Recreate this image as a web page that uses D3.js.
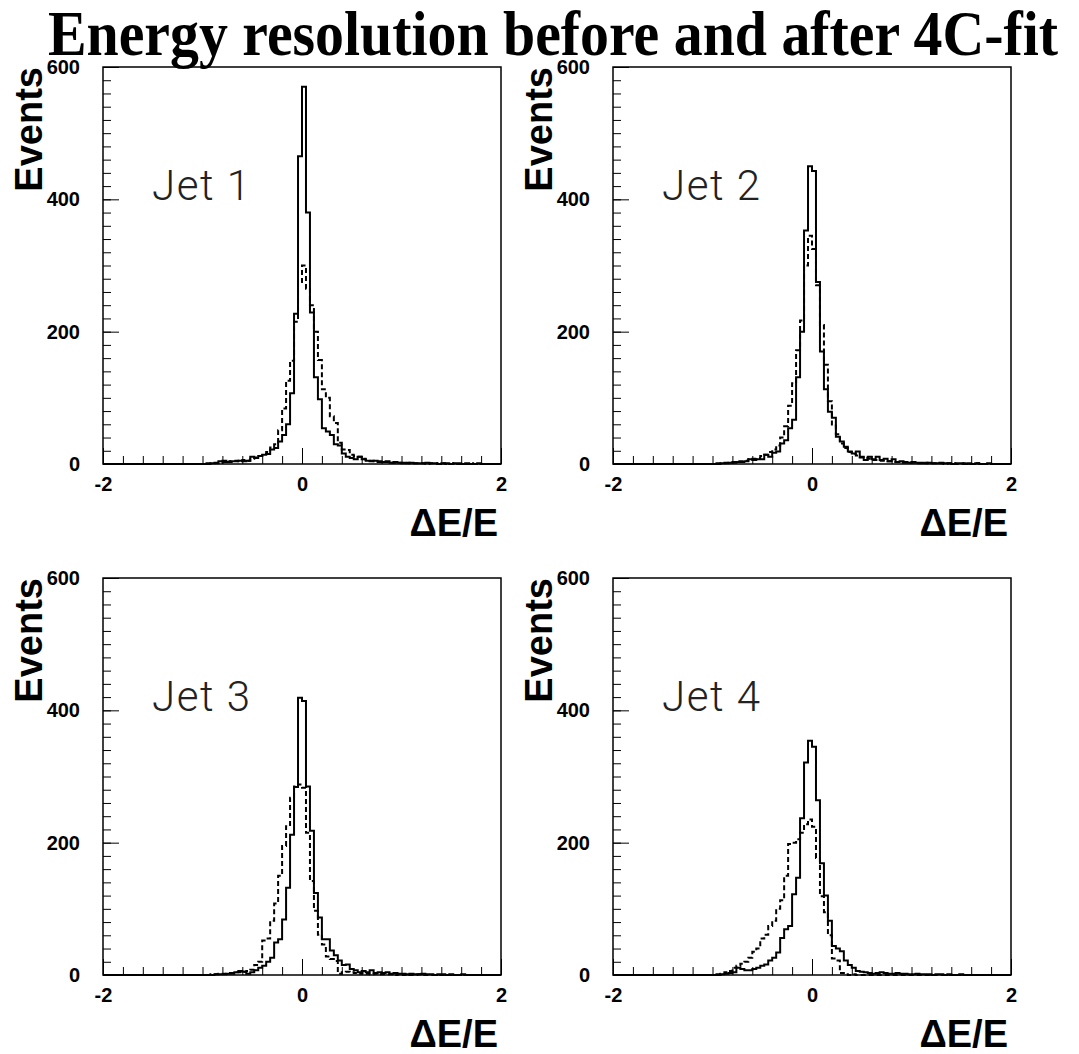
<!DOCTYPE html>
<html>
<head>
<meta charset="utf-8">
<script src="https://cdn.jsdelivr.net/npm/d3@7"></script>
<style>
  body { margin: 0; background: #fff; }
</style>
</head>
<body>
<div class="chart"></div>
<script>
// title and panel labels
var title = "Energy resolution before and after 4C-fit";
var jetLabels = ["Jet 1", "Jet 2", "Jet 3", "Jet 4"];
var yTitle = "Events";
var xTitle = "\u0394E/E";

// axis ticks
var xMajorTicks = [-2, 0, 2];
var yMajorTicks = [0, 200, 400, 600];

// 100 bins of 0.04 from -2 to 2 (solid = after fit, dashed = before fit)
var jet1After = [
  0,0,0,0,0,0,0,0,0,0,0,0,0,0,0,0,0,0,0,0,0,0,0,0,0,
  0,1,1,2,4,5,3,4,4,5,4,5,11,9,12,14,15,22,24,34,44,60,107,227,465,
  570,380,229,131,98,54,49,44,30,28,16,11,9,7,11,7,5,4,5,3,3,4,2,3,2,
  2,1,2,1,1,1,2,1,1,0,1,1,0,1,1,0,1,0,0,1,0,0,0,0,0
];
var jet1Before = [
  0,0,0,0,0,0,0,0,0,0,0,0,0,0,0,0,0,0,0,0,0,0,0,0,0,
  0,0,1,1,2,3,4,3,5,4,6,5,8,10,12,15,18,25,30,51,84,126,156,215,275,
  300,265,240,200,157,113,100,72,62,32,22,21,14,12,11,8,6,5,4,4,3,3,2,2,2,
  1,2,1,1,1,1,0,1,1,0,1,0,0,1,0,0,0,1,0,0,0,0,0,0,0
];
var jet2After = [
  0,0,0,0,0,0,0,0,0,0,0,0,0,0,0,0,0,0,0,0,0,0,0,0,0,
  0,0,1,1,2,2,3,3,4,7,6,7,7,14,11,17,19,31,36,54,67,131,200,353,450,
  443,275,170,113,79,70,41,34,26,19,16,19,11,6,11,7,11,6,8,4,7,3,4,3,2,
  3,2,2,1,2,1,1,2,1,1,0,1,1,0,1,0,1,0,0,1,0,0,0,0,0
];
var jet2Before = [
  0,0,0,0,0,0,0,0,0,0,0,0,0,0,0,0,0,0,0,0,0,0,0,0,0,
  0,1,1,2,2,3,4,4,5,7,8,9,12,14,18,22,28,40,57,88,122,172,217,300,345,
  325,270,210,150,95,58,45,31,24,18,15,13,10,9,8,6,6,5,5,4,3,3,2,2,2,
  2,1,1,2,1,1,1,1,0,1,1,0,0,1,0,0,1,0,0,0,0,0,0,0,0
];
var jet3After = [
  0,0,0,0,0,0,0,0,0,0,0,0,0,0,0,0,0,0,0,0,0,0,0,0,0,
  0,0,0,1,1,1,2,2,4,6,5,2,4,7,11,14,20,26,49,54,84,132,212,284,419,
  414,285,218,124,87,54,54,37,30,22,15,16,9,7,4,6,4,7,3,4,3,4,2,3,2,
  2,1,2,1,1,2,1,1,0,1,1,0,1,0,0,1,0,0,0,0,0,0,0,0,0
];
var jet3Before = [
  0,0,0,0,0,0,0,0,0,0,0,0,0,0,0,0,0,0,0,0,0,0,0,0,0,
  0,0,1,1,2,2,3,3,4,4,5,6,8,15,20,52,55,82,108,150,195,225,268,285,288,
  283,215,142,97,61,46,28,24,21,2,4,5,4,3,2,3,2,1,2,1,1,1,1,0,1,
  0,1,0,0,1,0,0,0,0,0,0,0,0,0,0,0,0,0,0,0,0,0,0,0,0
];
var jet4After = [
  0,0,0,0,0,0,0,0,0,0,0,0,0,0,0,0,0,0,0,0,0,0,0,0,0,
  0,0,1,2,3,4,11,9,7,7,9,11,14,16,22,26,34,56,69,74,122,147,237,321,354,
  345,264,169,120,82,44,40,36,22,15,11,6,5,4,3,2,3,4,3,2,2,3,2,2,1,
  1,2,1,1,1,0,1,1,0,1,0,0,1,0,0,0,0,0,0,0,0,0,0,0,0
];
var jet4Before = [
  0,0,0,0,0,0,0,0,0,0,0,0,0,0,0,0,0,0,0,0,0,0,0,0,0,
  0,1,2,4,6,11,14,17,20,26,35,40,55,61,74,82,100,113,150,198,200,205,215,228,235,
  224,177,119,95,60,25,22,3,1,0,1,0,0,0,0,0,0,0,0,0,0,0,0,0,0,
  0,0,0,0,0,0,0,0,0,0,0,0,0,0,0,0,0,0,0,0,0,0,0,0,0
];

var afterFit = [jet1After, jet2After, jet3After, jet4After];
var beforeFit = [jet1Before, jet2Before, jet3Before, jet4Before];

var xMin = -2, xMax = 2, binWidth = 0.04;

var svgWidth = 1079;
var svgHeight = 1054;

var svg = d3.select(".chart")
  .append("svg")
  .attr("width", svgWidth)
  .attr("height", svgHeight);

svg.append("rect")
  .attr("width", svgWidth)
  .attr("height", svgHeight)
  .attr("fill", "white");

// big title
svg.append("text")
  .attr("x", 48)
  .attr("y", 55)
  .attr("textLength", 1010)
  .attr("lengthAdjust", "spacingAndGlyphs")
  .style("font-family", "'Liberation Serif', 'Times New Roman', serif")
  .style("font-weight", "bold")
  .style("font-size", "63px")
  .text(title);

var panelW = 398, panelH = 397;
var panelLeft = [103, 613];
var panelTop = [67, 578];

var x = d3.scaleLinear().domain([xMin, xMax]).range([0, panelW]);
var y = d3.scaleLinear().domain([0, 600]).range([panelH, 0]);

var line = d3.line()
  .x(d => x(d.x))
  .y(d => y(d.y))
  .curve(d3.curveStepAfter);

function stepPoints(values) {
  var pts = [{x: xMin, y: 0}];
  values.forEach(function(v, i) {
    pts.push({x: xMin + i * binWidth, y: v});
  });
  pts.push({x: xMax, y: values[values.length - 1]});
  pts.push({x: xMax, y: 0});
  return pts;
}

var labelFont = "'Liberation Sans', Arial, Helvetica, sans-serif";

jetLabels.forEach(function(label, k) {
  var left = panelLeft[k % 2];
  var top = panelTop[Math.floor(k / 2)];

  var g = svg.append("g")
    .attr("transform", `translate(${left}, ${top})`);

  // minor and major ticks, drawn inside the frame
  var xMinor = g.append("g")
    .attr("transform", `translate(0, ${panelH})`)
    .call(d3.axisTop(x).tickValues(d3.range(-20, 21, 2).map(d => d / 10)).tickSize(8).tickFormat(""));
  xMinor.select(".domain").remove();

  var xMajor = g.append("g")
    .attr("transform", `translate(0, ${panelH})`)
    .call(d3.axisTop(x).tickValues(xMajorTicks).tickSize(16).tickFormat(""));
  xMajor.select(".domain").remove();

  var yMinor = g.append("g")
    .call(d3.axisRight(y).tickValues(d3.range(0, 601, 20)).tickSize(8).tickFormat(""));
  yMinor.select(".domain").remove();

  var yMajor = g.append("g")
    .call(d3.axisRight(y).tickValues(yMajorTicks).tickSize(16).tickFormat(""));
  yMajor.select(".domain").remove();

  // tick labels
  var xLab = g.append("g")
    .attr("transform", `translate(0, ${panelH})`)
    .call(d3.axisBottom(x).tickValues(xMajorTicks).tickSize(0).tickPadding(13).tickFormat(d3.format("d")));
  xLab.select(".domain").remove();
  xLab.selectAll("text")
    .text(d => d < 0 ? "-" + Math.abs(d) : d)
    .style("font-family", labelFont)
    .style("font-weight", "bold")
    .style("font-size", "20px");

  var yLab = g.append("g")
    .call(d3.axisLeft(y).tickValues(yMajorTicks).tickSize(0).tickPadding(23));
  yLab.select(".domain").remove();
  yLab.selectAll("text")
    .style("font-family", labelFont)
    .style("font-weight", "bold")
    .style("font-size", "20px");

  // frame
  g.append("rect")
    .attr("width", panelW)
    .attr("height", panelH)
    .attr("fill", "none")
    .attr("stroke", "black")
    .attr("stroke-width", 1.5);

  // histograms
  g.append("path")
    .datum(stepPoints(beforeFit[k]))
    .attr("d", line)
    .attr("fill", "none")
    .attr("stroke", "black")
    .attr("stroke-width", 2)
    .attr("stroke-dasharray", "5,3");

  g.append("path")
    .datum(stepPoints(afterFit[k]))
    .attr("d", line)
    .attr("fill", "none")
    .attr("stroke", "black")
    .attr("stroke-width", 2);

  // jet label
  g.append("text")
    .attr("x", 49)
    .attr("y", 133)
    .attr("textLength", 98)
    .attr("lengthAdjust", "spacing")
    .style("font-family", "Roboto, 'DejaVu Sans', sans-serif")
    .style("font-weight", 300)
    .style("font-size", "42px")
    .attr("fill", "#222")
    .text(label);

  // axis titles
  g.append("text")
    .attr("transform", `translate(-61, 0) rotate(-90)`)
    .attr("text-anchor", "end")
    .style("font-family", labelFont)
    .style("font-weight", "bold")
    .style("font-size", "38px")
    .text(yTitle);

  g.append("text")
    .attr("x", panelW - 3)
    .attr("y", panelH + 72)
    .attr("text-anchor", "end")
    .style("font-family", labelFont)
    .style("font-weight", "bold")
    .style("font-size", "38px")
    .text(xTitle);
});
</script>
</body>
</html>
